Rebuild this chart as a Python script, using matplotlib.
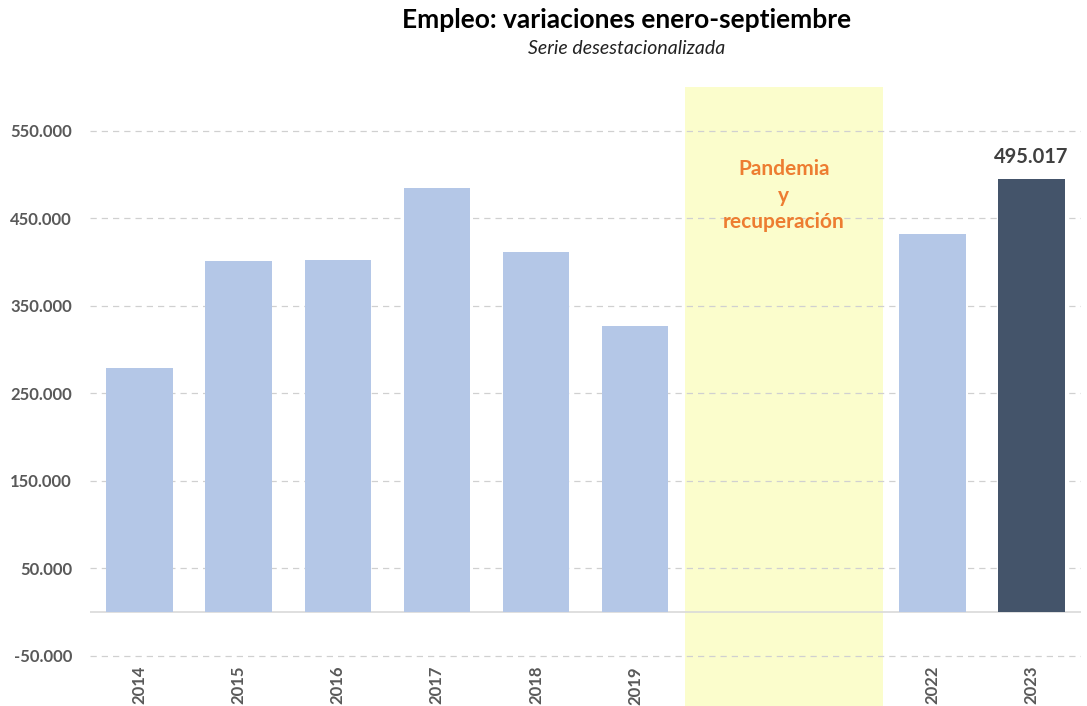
import numpy as np
import matplotlib
matplotlib.use("Agg")
import matplotlib.pyplot as plt
from matplotlib.patches import Rectangle
from matplotlib.transforms import blended_transform_factory

plt.rcParams['font.family'] = ['Lato', 'DejaVu Sans']

# data
years = ["2014", "2015", "2016", "2017", "2018", "2019", "2020", "2021", "2022", "2023"]
values = [279000, 401000, 402000, 485000, 412000, 327000, np.nan, np.nan, 432000, 495017]
shown_labels = ["2014", "2015", "2016", "2017", "2018", "2019", "", "", "2022", "2023"]
band_years = ["2020", "2021"]
yticks = [550000, 450000, 350000, 250000, 150000, 50000, -50000]

LIGHT = "#b4c7e7"
DARK = "#44546a"
GREY = "#595959"
BAND = "#fbfdcc"
ORANGE = "#ed7d31"

fig = plt.figure(figsize=(10.87, 7.06), dpi=100)
ax = fig.add_axes([90 / 1087, 1 - 664.5 / 706, (1081 - 90) / 1087, (664.5 - 87) / 706])

x = np.arange(len(years))
colors = [DARK if y == "2023" else LIGHT for y in years]
ax.bar(x, values, width=0.67, color=colors, zorder=3)

# pandemic band (extends below the axes, over the tick area)
i0 = years.index(band_years[0]); i1 = years.index(band_years[-1])
tr = blended_transform_factory(ax.transData, ax.transAxes)
ax.add_patch(Rectangle((i0 - 0.5, -0.2), i1 - i0 + 1, 1.2, transform=tr,
                       fc=BAND, ec="none", zorder=1, clip_on=False))
ax.text((i0 + i1) / 2, 476000, "Pandemia\ny\nrecuperación", ha="center", va="center",
        color=ORANGE, fontsize=15, fontweight="bold", linespacing=1.4, zorder=4)

ax.set_xlim(-0.5, len(years) - 0.5)
ax.set_ylim(-60000, 600000)
ax.set_yticks(yticks)
ax.set_yticklabels([f"{v:,}".replace(",", ".") for v in yticks],
                   fontsize=12, fontweight="bold", color=GREY)
ax.set_xticks(x)
ax.set_xticklabels(shown_labels, rotation=90, fontsize=12, fontweight="bold", color=GREY)
ax.tick_params(axis="y", length=0, pad=13)
ax.tick_params(axis="x", length=0, pad=1)

for v in yticks:
    ax.axhline(v, color="#d0d0d0", lw=0.9, ls=(0, (5, 4)), zorder=2)
ax.axhline(0, color="#d9d9d9", lw=1.2, zorder=2)
for s in ax.spines.values():
    s.set_visible(False)

i23 = years.index("2023")
ax.text(i23, values[i23] + 14000, f"{values[i23]:,}".replace(",", "."), ha="center",
        va="bottom", fontsize=14.5, fontweight="bold", color="#404040", zorder=4)

fig.text(627 / 1087, 1 - 20 / 706, "Empleo: variaciones enero-septiembre", ha="center",
         va="center", fontsize=19, fontweight="bold", color="black")
fig.text(627 / 1087, 1 - 49 / 706, "Serie desestacionalizada", ha="center", va="center",
         fontsize=14, style="italic", color="#222222")

fig.savefig("out.png", dpi=100)
